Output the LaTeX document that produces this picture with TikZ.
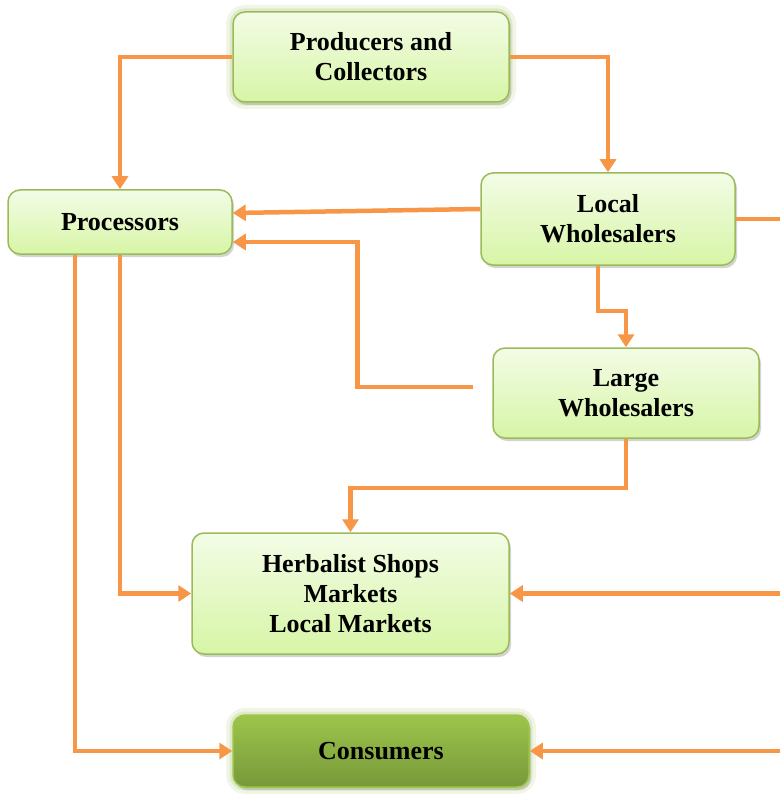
\documentclass[tikz,border=0pt]{standalone}
\usepackage{fontspec}
\setmainfont{Liberation Serif}
\usetikzlibrary{arrows.meta,shadows,calc}
\definecolor{connc}{HTML}{F79646}
\definecolor{bord}{HTML}{9BBB59}
\definecolor{ltop}{HTML}{F3FCE6}
\definecolor{lbot}{HTML}{D7F5A6}
\definecolor{dtop}{HTML}{9DC54B}
\definecolor{dbot}{HTML}{77983A}
\begin{document}
\begin{tikzpicture}[x=1pt,y=-1pt,
  box/.style={rounded corners=12pt, draw=bord, line width=1.5pt,
    top color=ltop, bottom color=lbot, align=center, inner sep=0pt,
    font=\fontsize{26}{30}\selectfont\bfseries,
    drop shadow={opacity=0.35, shadow xshift=2pt, shadow yshift=-3pt}},
  darkbox/.style={box, top color=dtop, bottom color=dbot, draw=dtop},
  glow/.style={preaction={draw=bord, line width=14pt, draw opacity=0.15},
    preaction={draw=bord, line width=7pt, draw opacity=0.2}},
  link/.style={draw=connc, line width=4.5pt},
  conn/.style={link, -{Triangle[length=13pt,width=16pt]}}]
\useasboundingbox (0,0) rectangle (779,794);

\node[box, glow, minimum width=276pt, minimum height=90pt] (prod) at (371,57) {Producers and\\Collectors};
\node[box, minimum width=224pt, minimum height=64pt] (proc) at (120,222) {Processors};
\node[box, minimum width=254pt, minimum height=92pt] (lw) at (608,219) {Local\\Wholesalers};
\node[box, minimum width=266pt, minimum height=90pt] (lgw) at (626,393) {Large\\Wholesalers};
\node[box, minimum width=317pt, minimum height=121pt] (herb) at (350.5,593.5) {Herbalist Shops\\Markets\\Local Markets};
\node[darkbox, glow, minimum width=296pt, minimum height=72pt] (cons) at (381,751) {Consumers};

\coordinate (r1) at (783,219);
\coordinate (rh) at (783,593.5);
\coordinate (rc) at (783,751);

\draw[conn] (prod.west) -| (proc.north);
\draw[conn] (prod.east) -| (lw.north);
\draw[conn] ($(lw.west)+(0,-10)$) -- ($(proc.east)+(0,-9)$);
\draw[conn] ($(lgw.west)+(-19,-6)$) -- ++(-116,0) |- ($(proc.east)+(0,20)$);
\draw[conn] ($(lw.south)+(-10,0)$) -- ++(0,45) -| (lgw.north);
\draw[conn] (lgw.south) -- ++(0,49) -| (herb.north);
\draw[conn] (proc.south) |- (herb.west);
\draw[conn] ($(proc.south)+(-45,0)$) |- (cons.west);
\draw[link] (lw.east) -- (r1) -- (rc);
\draw[conn] (rh) -- (herb.east);
\draw[conn] (rc) -- (cons.east);
\end{tikzpicture}
\end{document}
